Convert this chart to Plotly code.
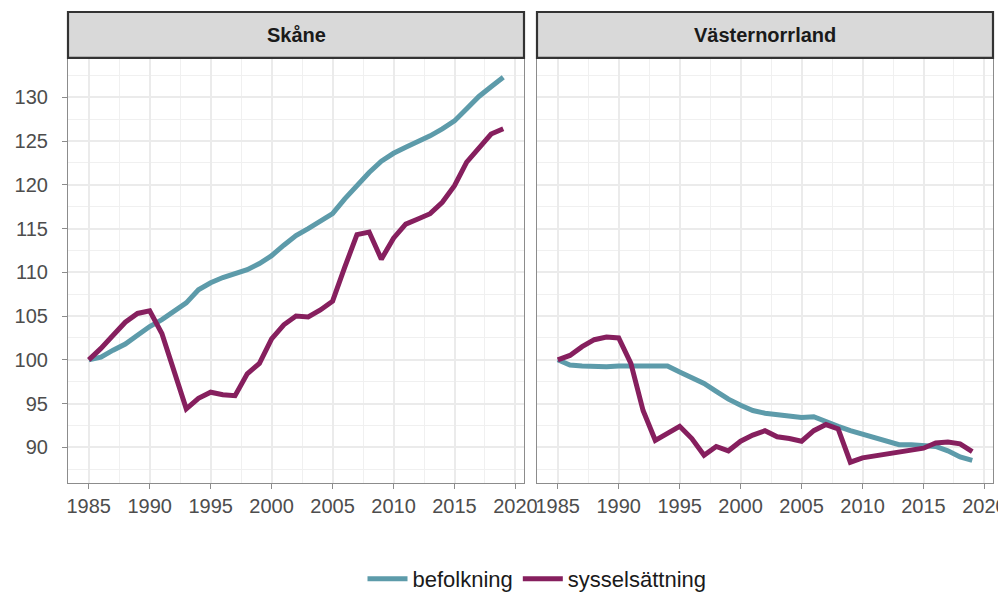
import plotly.graph_objects as go

years = list(range(1985, 2020))

skane_befolkning = [100.0, 100.3, 101.1, 101.8, 102.8, 103.8, 104.6, 105.5, 106.5, 108.0,
                    108.8, 109.4, 109.8, 110.3, 111.0, 111.9, 113.1, 114.2, 115.0, 115.8,
                    116.7, 118.4, 120.0, 121.4, 122.7, 123.6, 124.3, 124.9, 125.6, 126.4,
                    127.3, 128.7, 130.1, 131.2, 132.3]
skane_syssel = [100.0, 101.3, 102.8, 104.3, 105.3, 105.6, 103.0, 98.6, 94.4, 95.6,
                96.3, 96.0, 95.9, 98.4, 99.6, 102.4, 104.0, 105.0, 104.9, 105.7,
                106.7, 110.6, 114.3, 114.6, 111.5, 113.9, 115.5, 116.1, 116.7, 118.0,
                119.9, 122.6, 124.3, 125.8, 126.4]
vn_befolkning = [100.0, 99.4, 99.3, 99.2, 99.2, 99.3, 99.3, 99.3, 99.3, 99.3,
                 98.6, 98.0, 97.3, 96.4, 95.5, 94.8, 94.2, 93.9, 93.7, 93.5,
                 93.4, 93.5, 92.9, 92.4, 91.9, 91.5, 91.0, 90.6, 90.3, 90.3,
                 90.2, 90.1, 89.6, 88.9, 88.5]
vn_syssel = [100.0, 100.5, 101.5, 102.3, 102.6, 102.5, 99.6, 94.2, 90.8, 91.6,
             92.4, 91.0, 89.1, 90.1, 89.6, 90.7, 91.4, 91.9, 91.2, 91.0,
             90.7, 91.9, 92.6, 92.1, 88.3, 88.8, 89.0, 89.3, 89.4, 89.7,
             89.9, 90.5, 90.6, 90.4, 89.5]

panels = ["Skåne", "Västernorrland"]
series_names = ["befolkning", "sysselsättning"]
colors = {"befolkning": "#5D9BAA", "sysselsättning": "#861F5E"}
x_ticks = [1985, 1990, 1995, 2000, 2005, 2010, 2015, 2020]
y_ticks = [90, 95, 100, 105, 110, 115, 120, 125, 130]

data = {
    ("Skåne", "befolkning"): skane_befolkning,
    ("Skåne", "sysselsättning"): skane_syssel,
    ("Västernorrland", "befolkning"): vn_befolkning,
    ("Västernorrland", "sysselsättning"): vn_syssel,
}

W, H = 1006, 592
OFF = 8  # page body margin
FONT = "Liberation Sans, Arial, sans-serif"


def px(x):
    return (x - OFF) / W


def py(y):
    return 1 - (y - OFF) / H


fig = go.Figure()

for i, p in enumerate(panels):
    xa = "x" if i == 0 else "x2"
    ya = "y" if i == 0 else "y2"
    for s in series_names:
        fig.add_trace(go.Scatter(
            x=years, y=data[(p, s)], mode="lines", name=s,
            line=dict(color=colors[s], width=5),
            xaxis=xa, yaxis=ya, showlegend=(i == 0), legendgroup=s,
        ))

dom_left = [px(68), px(524)]
dom_right = [px(537), px(993)]
ydom = [py(484), py(58)]

axis_common = dict(
    showline=True, linecolor="#8c8c8c", linewidth=1.2, mirror=True,
    showgrid=True, gridcolor="#ebebeb", gridwidth=1.8,
    ticklen=5, tickcolor="#8c8c8c", tickwidth=1,
    tickfont=dict(family=FONT, size=20, color="#4d4d4d"),
    zeroline=False, automargin=False,
)
minor = dict(showgrid=True, gridcolor="#f0f0f0", gridwidth=1, ticks="")

fig.update_layout(
    xaxis=dict(domain=dom_left, range=[1983.3, 2020.7], tickvals=x_ticks, ticks="outside",
               minor=dict(dtick=2.5, tick0=1982.5, **minor), **axis_common),
    xaxis2=dict(domain=dom_right, range=[1983.3, 2020.7], tickvals=x_ticks, ticks="outside",
                minor=dict(dtick=2.5, tick0=1982.5, **minor), anchor="y2", **axis_common),
    yaxis=dict(domain=ydom, range=[85.9, 134.5], tickvals=y_ticks, ticks="outside",
               ticklabelstandoff=10,
               minor=dict(dtick=2.5, tick0=87.5, **minor), **axis_common),
    yaxis2=dict(domain=ydom, range=[85.9, 134.5], tickvals=y_ticks, showticklabels=False,
                ticks="", minor=dict(dtick=2.5, tick0=87.5, **minor), anchor="x2",
                matches="y", **axis_common),
    width=W, height=H,
    margin=dict(l=0, r=0, t=0, b=0),
    plot_bgcolor="white", paper_bgcolor="white",
    legend=dict(orientation="h", x=px(537), xanchor="center", y=py(580), yanchor="middle",
                font=dict(family=FONT, size=22, color="#1a1a1a"), itemwidth=40,
                bgcolor="rgba(0,0,0,0)"),
    font=dict(family=FONT),
)

# strip headers
for dom, p in zip([dom_left, dom_right], panels):
    fig.add_shape(type="rect", xref="paper", yref="paper",
                  x0=dom[0], x1=dom[1], y0=py(58), y1=py(12),
                  fillcolor="#d9d9d9", line=dict(color="#333333", width=2.2), layer="above")
    fig.add_annotation(xref="paper", yref="paper", x=(dom[0] + dom[1]) / 2, y=py(35),
                       text="<b>" + p + "</b>", showarrow=False,
                       font=dict(family=FONT, size=20, color="#1a1a1a"),
                       xanchor="center", yanchor="middle")

fig.write_html("out.html")
